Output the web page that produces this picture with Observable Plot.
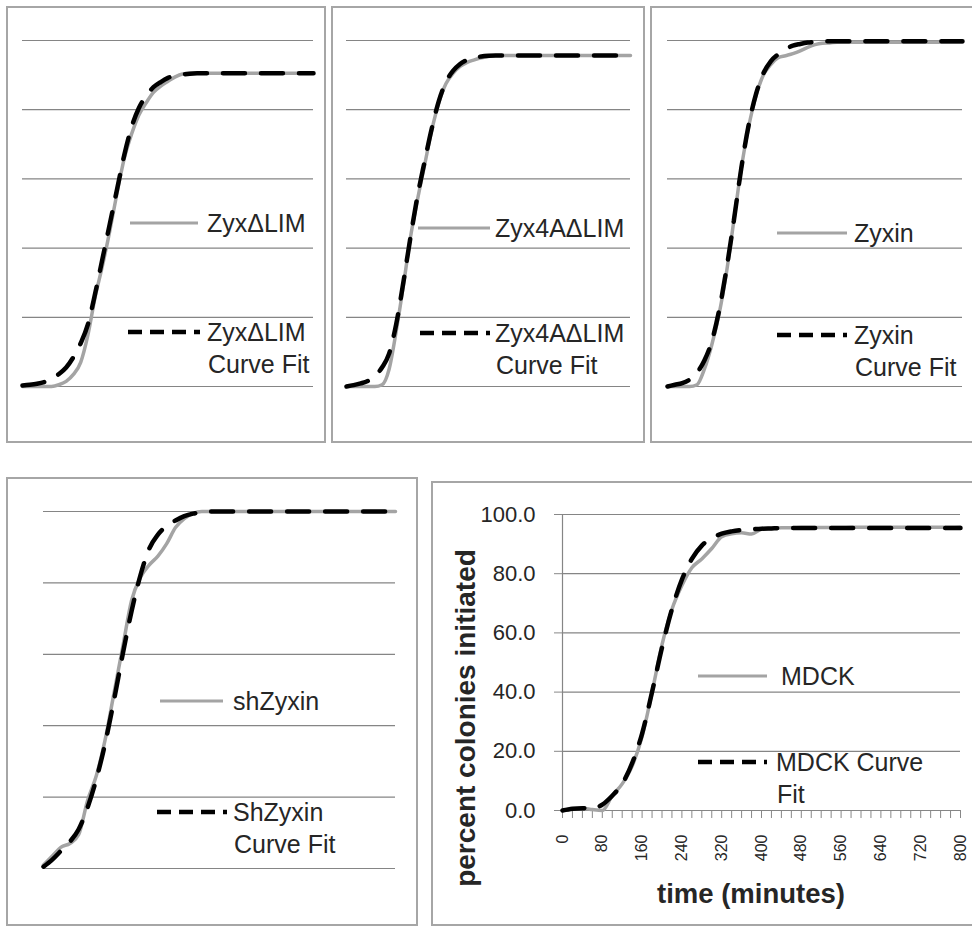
<!DOCTYPE html>
<html>
<head>
<meta charset="utf-8">
<script src="https://cdn.jsdelivr.net/npm/d3@7"></script>
<script src="https://cdn.jsdelivr.net/npm/@observablehq/plot@0.6"></script>
<style>
  html, body { margin: 0; padding: 0; background: #fff; }
  #page { position: relative; width: 972px; height: 927px; overflow: hidden; background: #fff; font-family: "Liberation Sans", Arial, sans-serif; }
  .panel { position: absolute; z-index: 1; }
  .panel svg { display: block; max-width: none !important; background: transparent !important; }
  .frame { position: absolute; box-sizing: border-box; border: 2px solid #a6a6a6; z-index: 2; pointer-events: none; }
  #legend { position: absolute; left: 0; top: 0; z-index: 3; pointer-events: none; }
  #p5 [aria-label^="x-axis"] text { font-size: 16px; }
  #p5 [aria-label^="x-axis"] line, #p5 [aria-label^="x-axis"] path,
  #p5 [aria-label^="y-axis"] line, #p5 [aria-label^="y-axis"] path { stroke: #888; }
</style>
</head>
<body>
<div id="page"></div>
<script>
// ---- data ----
const minutes = [0,20,40,60,80,100,120,140,160,180,
                 200,220,240,260,280,300,320,340,360,380,
                 400,420,440,460,480,500,520,540,560,580,
                 600,620,640,660,680,700,720,740,760,780,800];
const xTickLabels = [0,80,160,240,320,400,480,560,640,720,800];
const yTicks = [0,20,40,60,80,100];

const seriesNames = ["ZyxΔLIM", "Zyx4AΔLIM", "Zyxin", "shZyxin", "MDCK"];
const fitNames = ["ZyxΔLIM|Curve Fit", "Zyx4AΔLIM|Curve Fit", "Zyxin|Curve Fit", "ShZyxin|Curve Fit", "MDCK Curve|Fit"];
const xTitle = "time (minutes)";
const yTitle = "percent colonies initiated";

const zyxDLIM = [0,0,0,0,0,0.5,1.5,3.5,7,15,
                 26,35,45,56,66,73,78.5,82,85,86.8,
                 88.2,89.5,90.3,90.5,90.5,90.5,90.5,90.5,90.5,90.5,
                 90.5,90.5,90.5,90.5,90.5,90.5,90.5,90.5,90.5,90.5,90.6];
const zyxDLIMFit = [0.3,0.5,0.8,1.3,2.2,3.6,5.5,8.5,12.5,18,
                    27,37,47,57,67,75,80.5,84,86.5,88,
                    89.2,89.9,90.2,90.4,90.5,90.5,90.5,90.5,90.5,90.5,
                    90.5,90.5,90.5,90.5,90.5,90.5,90.5,90.5,90.5,90.5,90.5];

const zyx4ADLIM = [0,0,0,0,0,0.5,5,16,29,43,
                   54,64,74,82,87.5,90.5,92.5,93.7,94.4,95,
                   95.4,95.7,95.7,95.7,95.7,95.7,95.7,95.7,95.7,95.7,
                   95.7,95.7,95.7,95.7,95.7,95.7,95.7,95.7,95.7,95.7,95.7];
const zyx4ADLIMFit = [0,0.4,0.9,1.6,3,5.5,9.5,18,30,43,
                      55,65,74.5,82.5,88,91.2,93.2,94.4,95,95.4,
                      95.6,95.7,95.7,95.7,95.7,95.7,95.7,95.7,95.7,95.7,
                      95.7,95.7,95.7,95.7,95.7,95.7,95.7,95.7,95.7,95.7,95.7];

const zyxin = [0,0,0,0,0.5,5,12,21,33,48,
               63,75,84,90,93,95,95.6,96.2,97,98,
               98.8,99.2,99.3,99.5,99.5,99.5,99.5,99.5,99.5,99.5,
               99.5,99.5,99.5,99.5,99.5,99.5,99.5,99.5,99.5,99.5,99.5];
const zyxinFit = [0,0.5,1,2,4,7.5,13,22,34,48,
                  63,75.5,84.5,90.5,94,96,97.5,98.5,99,99.4,
                  99.6,99.8,99.8,99.8,99.8,99.8,99.8,99.8,99.8,99.8,
                  99.8,99.8,99.8,99.8,99.8,99.8,99.8,99.8,99.8,99.8,99.8];

const shZyxin = [1,3.5,6,7,9.5,19,26,36,49,62,
                 75,81.5,85,87.5,91,95.5,98,99.5,100,100,
                 100,100,100,100,100,100,100,100,100,100,
                 100,100,100,100,100,100,100,100,100,100,100];
const shZyxinFit = [0.5,2.5,5,7.5,11,17,25,35,47,60,
                    72,82,89.5,93.5,96,97.5,98.7,99.4,99.8,100,
                    100,100,100,100,100,100,100,100,100,100,
                    100,100,100,100,100,100,100,100,100,100,100];

const mdck = [0,0.5,0.8,0.3,0,5,9,15,25,40,
              56,68,76,82,85,88.5,92.5,93.5,93.8,93.4,
              95,95.3,95.5,95.5,95.6,95.6,95.6,95.6,95.6,95.7,
              95.7,95.7,95.7,95.7,95.7,95.7,95.7,95.7,95.7,95.7,95.8];
const mdckFit = [0,0.6,0.8,0.6,2,5,9,16,26,40,
                 55,68,78,85,89.5,92,93.5,94.3,94.8,95,
                 95.2,95.3,95.4,95.4,95.4,95.4,95.4,95.4,95.4,95.4,
                 95.4,95.4,95.4,95.4,95.4,95.4,95.4,95.4,95.4,95.4,95.4];

// ---- styling ----
const FONT = "'Liberation Sans', Arial, sans-serif";
const GRID = "#858585";
const DATA_GRAY = "#a4a4a4";
const TEXT = "#262626";

const page = document.getElementById("page");

function addFrame(l, t, w, h) {
  const f = document.createElement("div");
  f.className = "frame";
  Object.assign(f.style, {left: l + "px", top: t + "px", width: w + "px", height: h + "px"});
  page.appendChild(f);
}

function addPanel(id, l, t, svg, w) {
  const d = document.createElement("div");
  d.className = "panel";
  d.id = id;
  Object.assign(d.style, {left: l + "px", top: t + "px", width: w + "px"});
  d.appendChild(svg);
  page.appendChild(d);
}

function gridMarks() {
  return [Plot.ruleY(yTicks, {stroke: GRID, strokeWidth: 1.2})];
}
function curveMarks(series, fit) {
  return [
    Plot.lineY(series, {x: minutes, stroke: DATA_GRAY, strokeWidth: 3.5, curve: "monotone-x"}),
    Plot.lineY(fit, {x: minutes, stroke: "#000", strokeWidth: 4.5, strokeDasharray: "22,16", curve: "monotone-x"})
  ];
}

function smallPlot(series, fit, w, h, mL, mR, mT, mB) {
  return Plot.plot({
    width: w, height: h,
    marginLeft: mL, marginRight: mR, marginTop: mT, marginBottom: mB,
    style: {fontFamily: FONT, background: "transparent"},
    x: {domain: [0, 800], axis: null},
    y: {domain: [0, 100], axis: null},
    marks: [...gridMarks(), ...curveMarks(series, fit)]
  });
}

// Top row
addPanel("p1", 7, 6, smallPlot(zyxDLIM, zyxDLIMFit, 318, 436, 15, 12, 34, 56), 318);
addPanel("p2", 332, 6, smallPlot(zyx4ADLIM, zyx4ADLIMFit, 310, 436, 14, 12, 34, 56), 310);
addPanel("p3", 651, 6, smallPlot(zyxin, zyxinFit, 321, 436, 16, 10, 34, 56), 321);
// Bottom left
addPanel("p4", 7, 477, smallPlot(shZyxin, shZyxinFit, 410, 448, 36, 22, 34, 57), 410);

// Bottom right: MDCK with axes
const p5 = Plot.plot({
  width: 540, height: 443,
  marginLeft: 130, marginRight: 12, marginTop: 32, marginBottom: 115,
  style: {fontFamily: FONT, fontSize: "22px", color: TEXT, background: "transparent", overflow: "visible"},
  x: {domain: [0, 800], ticks: minutes, tickFormat: d => xTickLabels.includes(d) ? String(d) : "",
      tickSize: 8, tickPadding: 16, tickRotate: -90, label: null},
  y: {domain: [0, 100], ticks: yTicks, tickFormat: d3.format(".1f"), tickSize: 8, tickPadding: 19, label: null},
  marks: [
    ...gridMarks(),
    Plot.ruleX([0], {stroke: GRID, strokeWidth: 1.2}),
    ...curveMarks(mdck, mdckFit)
  ]
});
addPanel("p5", 432, 482, p5, 540);

// Frames
addFrame(6, 6, 320, 437);
addFrame(331, 6, 314, 437);
addFrame(650, 6, 360, 437);
addFrame(6, 477, 412, 449);
addFrame(431, 481, 600, 445);

// Overlay: Excel-style legends and axis titles
const legendItems = [
  {x1: 130, x2: 198, y: 223, fit: false, tx: 207, name: seriesNames[0]},
  {x1: 128, x2: 200, y: 332, fit: true,  tx: 207, name: fitNames[0]},
  {x1: 418, x2: 490, y: 228, fit: false, tx: 495, name: seriesNames[1]},
  {x1: 420, x2: 490, y: 333, fit: true,  tx: 495, name: fitNames[1]},
  {x1: 777, x2: 847, y: 233, fit: false, tx: 854, name: seriesNames[2]},
  {x1: 777, x2: 847, y: 335, fit: true,  tx: 854, name: fitNames[2]},
  {x1: 160, x2: 223, y: 701, fit: false, tx: 233, name: seriesNames[3]},
  {x1: 157, x2: 227, y: 812, fit: true,  tx: 233, name: fitNames[3]},
  {x1: 698, x2: 767, y: 676, fit: false, tx: 781, name: seriesNames[4]},
  {x1: 698, x2: 767, y: 762, fit: true,  tx: 776, name: fitNames[4]}
];

const lg = d3.select(page).append("svg")
  .attr("id", "legend").attr("width", 972).attr("height", 927);

for (const it of legendItems) {
  lg.append("line")
    .attr("x1", it.x1).attr("x2", it.x2).attr("y1", it.y).attr("y2", it.y)
    .attr("stroke", it.fit ? "#000" : DATA_GRAY)
    .attr("stroke-width", it.fit ? 4.5 : 3)
    .attr("stroke-dasharray", it.fit ? "14,8" : null);
  const t = lg.append("text")
    .attr("x", it.tx).attr("y", it.y)
    .attr("font-family", FONT).attr("font-size", 25).attr("fill", TEXT);
  it.name.split("|").forEach((s, i) => {
    t.append("tspan").attr("x", it.tx + (i ? 1 : 0)).attr("dy", i ? "1.27em" : "0.35em").text(s);
  });
}

lg.append("text")
  .attr("x", 751).attr("y", 893).attr("dy", "0.35em")
  .attr("text-anchor", "middle")
  .attr("font-family", FONT).attr("font-size", 27.5).attr("font-weight", "bold").attr("fill", TEXT)
  .text(xTitle);
lg.append("text")
  .attr("transform", "translate(465,718) rotate(-90)")
  .attr("dy", "0.35em")
  .attr("text-anchor", "middle")
  .attr("font-family", FONT).attr("font-size", 28).attr("font-weight", "bold").attr("fill", TEXT)
  .text(yTitle);
</script>
</body>
</html>
